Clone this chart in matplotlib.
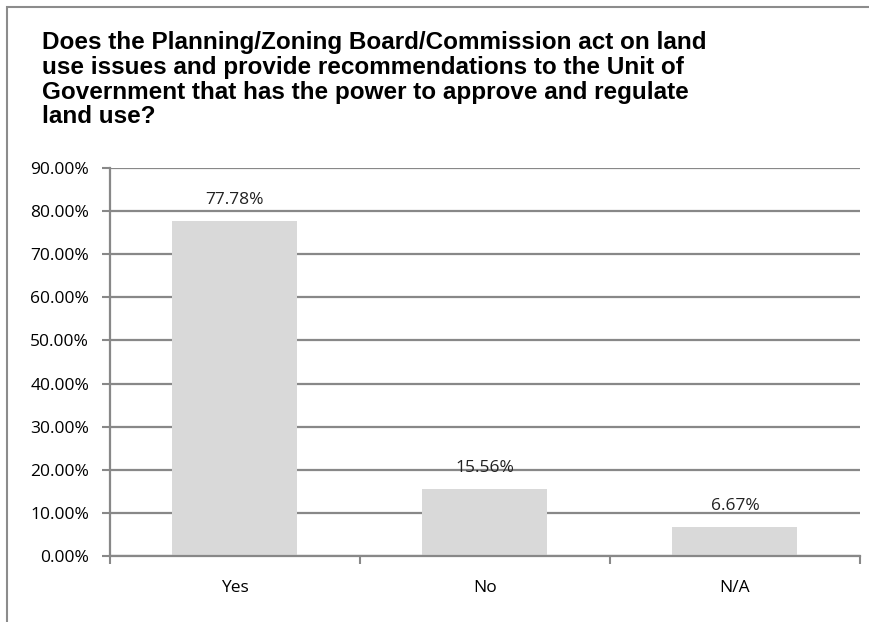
import matplotlib
matplotlib.use("Agg")
import matplotlib.pyplot as plt
from matplotlib.patches import Rectangle

categories = ["Yes", "No", "N/A"]
shares = [77.78, 15.56, 6.67]
yticks = [0, 10, 20, 30, 40, 50, 60, 70, 80, 90]

title = ("Does the Planning/Zoning Board/Commission act on land\n"
         "use issues and provide recommendations to the Unit of\n"
         "Government that has the power to approve and regulate\n"
         "land use?")

fig = plt.figure(figsize=(8.7, 6.22), dpi=100)

# outer chart frame (right and bottom edges run off the canvas)
fig.patches.append(Rectangle((7 / 870, -0.05), 1.0, 1.05 - 7 / 622,
                             transform=fig.transFigure, fill=False,
                             edgecolor="#8c8c8c", linewidth=1.5))

fig.text(42 / 870, 1 - 31 / 622, title, ha="left", va="top",
         fontsize=17.5, fontweight="bold", family="Liberation Sans",
         linespacing=1.1)

ax = fig.add_axes([110 / 870, 1 - 556 / 622, 750 / 870, 388 / 622])
x = range(len(categories))
ax.bar(x, shares, width=0.5, color="#d9d9d9", zorder=2)
ax.set_xlim(-0.5, len(categories) - 0.5)
ax.set_ylim(0, 90)

for i, v in zip(x, shares):
    ax.annotate(f"{v:.2f}%", (i, v), xytext=(0, 15), textcoords="offset points",
                ha="center", va="center", fontsize=12.5, family="Open Sans",
                color="#222222", zorder=3)

ax.set_yticks(yticks)
ax.set_yticklabels([f"{t:.2f}%" for t in yticks], fontsize=12.5, family="Open Sans")
ax.yaxis.grid(True, color="#888888", linewidth=1.6, zorder=1)
ax.set_axisbelow(True)

ax.set_xticks(list(x))
ax.set_xticklabels(categories, fontsize=12.5, family="Open Sans")
ax.set_xticks([-0.5, 0.5, 1.5, 2.5], minor=True)
ax.tick_params(axis="x", which="major", length=0, pad=17)
ax.tick_params(axis="x", which="minor", length=6, width=1.5, color="#888888",
               direction="out")
ax.tick_params(axis="y", length=6, width=1.5, color="#888888", pad=9)

for side in ["top", "right"]:
    ax.spines[side].set_visible(False)
for side in ["left", "bottom"]:
    ax.spines[side].set_color("#888888")
    ax.spines[side].set_linewidth(1.6)

fig.savefig("out.png", dpi=100)
